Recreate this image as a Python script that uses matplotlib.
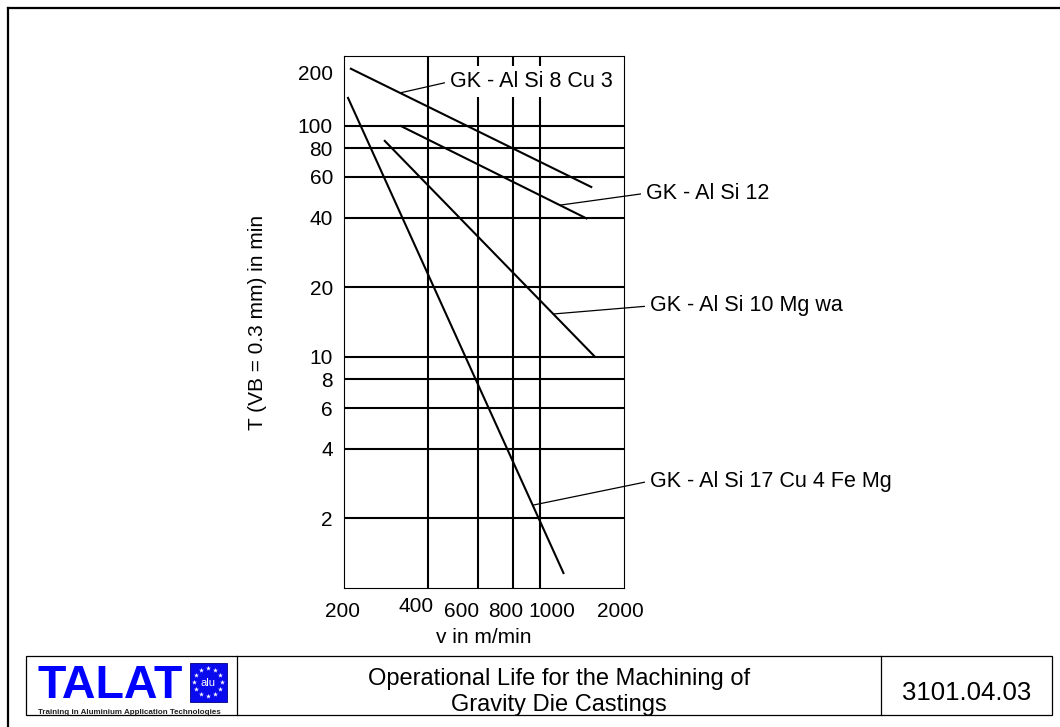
import numpy as np
import matplotlib
matplotlib.use("Agg")
import matplotlib.pyplot as plt
from matplotlib.patches import Rectangle
from matplotlib.transforms import ScaledTranslation

plt.rcParams['font.family'] = ['Liberation Sans', 'DejaVu Sans']

# tool life T (min) against cutting speed v (m/min), end points of each line
alloys = ["GK - Al Si 8 Cu 3", "GK - Al Si 12", "GK - Al Si 10 Mg wa",
          "GK - Al Si 17 Cu 4 Fe Mg"]
v_alsi8cu3 = [210, 1540]
t_alsi8cu3 = [177, 54]
v_alsi12 = [317, 1480]
t_alsi12 = [100, 39.5]
v_alsi10mg = [278, 1575]
t_alsi10mg = [86.5, 10]
v_alsi17cu4 = [206, 1220]
t_alsi17cu4 = [133, 1.15]

# speed where each leader line meets its curve, and where its label sits
leader_v = [317, 1180, 1118, 944]
label_v = [478, 2400, 2476, 2476]
label_t = [155, 51, 16.6, 2.9]

x_ticks = [200, 400, 600, 800, 1000, 2000]
x_grid = [400, 600, 800, 1000]
y_ticks = [2, 4, 6, 8, 10, 20, 40, 60, 80, 100, 200]
y_grid = [2, 4, 6, 8, 10, 20, 40, 60, 80, 100]

# hand placed tick labels in the original drawing (pixel shifts)
x_label_shift = {200: (-1, 0), 400: (-12, 5), 600: (-16, 0), 800: (-7, 0),
                 1000: (12, 0), 2000: (-4, 0)}
y_label_shift = {200: (0, -16)}


def point_on(v, t, at):
    # point on a straight line in log-log space
    return at, 10 ** np.interp(np.log10(at), np.log10(v), np.log10(t))


W, H = 1060, 727
fig = plt.figure(figsize=(W / 100, H / 100), dpi=100)

# page decoration in pixel coordinates
deco = fig.add_axes([0, 0, 1, 1], zorder=0)
deco.set_xlim(0, W)
deco.set_ylim(H, 0)
deco.axis('off')
deco.plot([7.5, W], [7.5, 7.5], color='black', lw=1.6, solid_capstyle='projecting')
deco.plot([7.5, 7.5], [7.5, H], color='black', lw=1.6, solid_capstyle='projecting')
deco.add_patch(Rectangle((26, 656), 1026, 59, fill=False, lw=0.9, ec='black'))
deco.plot([237.3, 237.3], [656, 715], color='black', lw=0.9)
deco.plot([881, 881], [656, 715], color='black', lw=0.9)
deco.text(37, 698.5, 'TALAT', color='#0000ff', fontsize=33.5, fontweight='bold',
          ha='left', va='baseline')
deco.add_patch(Rectangle((190, 663), 36.7, 38.7, fc='#0a0aee', ec='#000080', lw=0.6))
ang = np.linspace(0, 2 * np.pi, 12, endpoint=False)
deco.scatter(208.3 + 14 * np.cos(ang), 682.3 + 14 * np.sin(ang), marker='*',
             s=14, color='white', linewidths=0)
deco.text(208.3, 682.8, 'alu', color='white', fontsize=8, ha='center', va='center')
deco.text(38, 712, 'Training in Aluminium Application Technologies', fontsize=5.8,
          fontweight='bold', color='#222222', ha='left', va='center')
deco.text(559, 692, 'Operational Life for the Machining of\nGravity Die Castings',
          fontsize=17, ha='center', va='center', linespacing=1.2)
deco.text(966.7, 700, '3101.04.03', fontsize=18.5, ha='center', va='baseline')

# main chart
ax = fig.add_axes([344 / W, 1 - 588 / H, 280 / W, 532 / H], zorder=1)
ax.set_xscale('log')
ax.set_yscale('log')
ax.set_xlim(200, 2000)
ax.set_ylim(1, 200)

for g in x_grid:
    ax.axvline(g, color='black', lw=1.5, zorder=1)
for g in y_grid:
    ax.axhline(g, color='black', lw=1.5, zorder=1)

series = [(v_alsi8cu3, t_alsi8cu3), (v_alsi12, t_alsi12),
          (v_alsi10mg, t_alsi10mg), (v_alsi17cu4, t_alsi17cu4)]
for v, t in series:
    ax.plot(v, t, color='black', lw=1.5, solid_capstyle='butt', zorder=2)

for name, (v, t), lv, tx, ty in zip(alloys, series, leader_v, label_v, label_t):
    ax.annotate(name, xy=point_on(v, t, lv), xytext=(tx, ty), ha='left', va='center',
                fontsize=15.5, zorder=2.2, annotation_clip=False,
                bbox=dict(boxstyle='square,pad=0.25', fc='white', ec='none'),
                arrowprops=dict(arrowstyle='-', lw=0.9, color='black',
                                shrinkA=0, shrinkB=0, relpos=(0, 0.5)))

for s in ax.spines.values():
    s.set_linewidth(0.8)
    s.set_zorder(2.5)

ax.set_xticks(x_ticks, [str(x) for x in x_ticks])
ax.set_yticks(y_ticks, [str(y) for y in y_ticks])
ax.xaxis.set_minor_locator(plt.NullLocator())
ax.yaxis.set_minor_locator(plt.NullLocator())
ax.tick_params(axis='both', length=0, labelsize=15)
ax.tick_params(axis='x', pad=10)
ax.tick_params(axis='y', pad=8)

for tick, val in zip(ax.xaxis.get_major_ticks(), x_ticks):
    dx, dy = x_label_shift.get(val, (0, 0))
    tick.label1.set_transform(tick.label1.get_transform() +
                              ScaledTranslation(dx / 100, dy / 100, fig.dpi_scale_trans))
for tick, val in zip(ax.yaxis.get_major_ticks(), y_ticks):
    dx, dy = y_label_shift.get(val, (0, 0))
    tick.label1.set_transform(tick.label1.get_transform() +
                              ScaledTranslation(dx / 100, dy / 100, fig.dpi_scale_trans))

ax.set_xlabel('v in m/min', fontsize=15, labelpad=5)
ax.set_ylabel('T (VB = 0.3 mm) in min', fontsize=15, labelpad=22)

fig.savefig('out.png', dpi=100)
